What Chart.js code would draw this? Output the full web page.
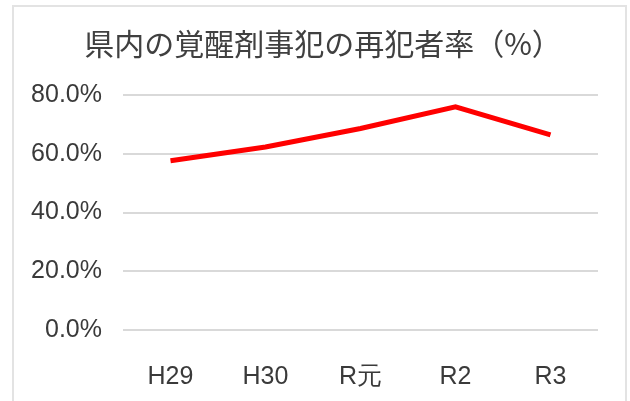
<!DOCTYPE html>
<html>
<head>
<meta charset="utf-8">
<script src="https://cdn.jsdelivr.net/npm/chart.js@4"></script>
<style>
  html, body { margin: 0; padding: 0; background: #fff; }
  #wrap { position: relative; width: 630px; height: 401px; }
  #frame { position: absolute; left: 12px; top: 5px; width: 611px; height: 410px;
           border: 2px solid #e3e3e3; pointer-events: none; }
</style>
</head>
<body>
<div id="wrap">
  <canvas id="chart-area"></canvas>
  <div id="frame"></div>
</div>
<script>
var years = ['H29', 'H30', 'R元', 'R2', 'R3'];
var rates = [57.6, 62.3, 68.6, 76.0, 66.4];
var yTicks = [0, 20, 40, 60, 80];

// nudge the title a little right, the original centres it on the frame
var titleShift = {
  id: 'titleShift',
  afterLayout: function(chart) {
    if (chart.titleBlock) {
      chart.titleBlock.left += 10;
      chart.titleBlock.right += 10;
    }
  }
};

window.onload = function() {
  var ctx = document.getElementById('chart-area').getContext('2d');
  var tickFont = {
    family: "'Liberation Sans', sans-serif",
    size: 25
  };
  var config = {
    type: 'line',
    data: {
      labels: years,
      datasets: [{
        data: rates,
        borderColor: '#ff0000',
        borderWidth: 5,
        pointRadius: 0,
        tension: 0,
        fill: false
      }]
    },
    options: {
      responsive: true,
      maintainAspectRatio: false,
      animation: false,
      layout: {
        padding: { left: 28, right: 32, top: 0, bottom: 0 }
      },
      plugins: {
        legend: { display: false },
        tooltip: { enabled: false },
        title: {
          display: true,
          text: '県内の覚醒剤事犯の再犯者率（%）',
          color: '#404040',
          font: { family: "'Noto Sans CJK JP', sans-serif", size: 30, weight: 'normal' },
          padding: { top: 26, bottom: 33 }
        }
      },
      scales: {
        x: {
          offset: true,
          grid: { display: false, drawTicks: false },
          border: { display: false },
          ticks: { color: '#3a3a3a', font: tickFont, padding: 32 },
          afterFit: function(axis) { axis.height = 71; }
        },
        y: {
          min: 0,
          max: 80,
          afterBuildTicks: function(axis) {
            axis.ticks = yTicks.map(function(v) { return { value: v }; });
          },
          grid: { color: '#d9d9d9', lineWidth: 2, drawTicks: false },
          border: { display: false },
          ticks: {
            color: '#3a3a3a',
            font: tickFont,
            padding: 21,
            callback: function(v) { return v.toFixed(1) + '%'; }
          },
          afterFit: function(axis) { axis.width = 95; }
        }
      }
    },
    plugins: [titleShift]
  };
  window.myLine = new Chart(ctx, config);
};
</script>
</body>
</html>
